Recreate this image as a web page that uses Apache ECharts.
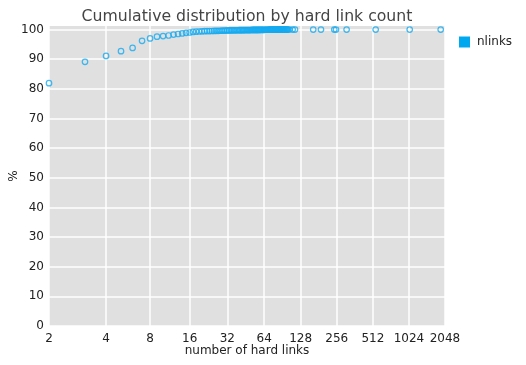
<!DOCTYPE html>
<html>
<head>
<meta charset="utf-8">
<script src="https://cdn.jsdelivr.net/npm/echarts@6/dist/echarts.min.js"></script>
<style>html,body{margin:0;padding:0;background:#fff}#c{width:526px;height:365px}</style>
</head>
<body>
<div id="c"></div>
<script>
const hardLinks = [
  2,3,4,5,6,7,8,9,10,11,12,13,14,15,16,17,18,19,20,
  21,22,23,24,25,26,27,28,29,30,31,
  32,33,34,35,36,37,38,39,40,
  41,42,43,44,45,46,47,48,49,50,
  51,52,53,54,55,56,57,58,59,60,61,62,63,
  64,65,66,67,68,69,70,71,72,73,74,75,76,77,78,79,80,
  81,82,83,84,85,86,87,88,89,90,91,92,93,94,95,96,97,98,99,100,
  103,110,115,163,189,244,252,309,540,1039,1886
];
const cumulativePct = [
  81.9,89.1,91.1,92.7,93.8,96.2,97.0,97.6,97.8,98.0,98.3,98.5,98.7,98.9,99.0,99.2,99.3,99.35,99.4,
  99.45,99.48,99.5,99.52,99.54,99.56,99.58,99.6,99.62,99.64,99.66,
  99.7,99.71,99.72,99.73,99.74,99.75,99.76,99.77,99.78,
  99.79,99.8,99.8,99.81,99.82,99.82,99.83,99.84,99.84,99.85,
  99.86,99.86,99.87,99.87,99.88,99.88,99.89,99.89,99.9,99.9,99.91,99.91,99.92,
  99.92,99.93,99.93,99.93,99.94,99.94,99.94,99.95,99.95,99.95,99.95,99.96,99.96,99.96,99.96,99.97,99.97,
  99.97,99.97,99.97,99.97,99.97,99.98,99.98,99.98,99.98,99.98,99.98,99.98,99.98,99.98,99.98,99.99,99.99,99.99,99.99,99.99,
  99.99,99.99,99.99,99.995,99.995,99.996,99.996,99.997,99.998,99.999,100
];
const xTickLabels = [2,4,8,16,32,64,128,256,512,1024,2048];
const yTickLabels = [0,10,20,30,40,50,60,70,80,90,100];
const seriesName = 'nlinks';

// x axis position: log2(n - 1)
const toAxis = n => Math.log2(n - 1);
const fromAxis = v => Math.round(Math.pow(2, v) + 1);
const xTickPos = xTickLabels.map(toAxis);

const color = '#14aaf0';
const font = 'DejaVu Sans';
const chart = echarts.init(document.getElementById('c'), null, {renderer: 'canvas'});
chart.setOption({
  animation: false,
  backgroundColor: '#fff',
  title: {
    text: 'Cumulative distribution by hard link count',
    left: 242, top: 4, textAlign: 'center',
    textStyle: {fontFamily: font, fontSize: 15.7, fontWeight: 'normal', color: '#444'}
  },
  legend: {
    left: 454, top: 31, orient: 'vertical',
    itemWidth: 11, itemHeight: 11, itemGap: 6,
    textStyle: {fontFamily: font, fontSize: 12, color: '#222', padding: [0, 0, 0, 2]},
    itemStyle: {color: '#00a8f0', borderWidth: 0, opacity: 1},
    data: [{name: seriesName, icon: 'rect', itemStyle: {color: '#00a8f0', borderWidth: 0, opacity: 1}}]
  },
  grid: {left: 49, right: 81, top: 26, bottom: 39, containLabel: false, outerBoundsMode: 'none',
         show: true, backgroundColor: '#e0e0e0', borderWidth: 0},
  xAxis: {
    type: 'value', min: 0, max: 11,
    name: 'number of hard links', nameLocation: 'middle', nameGap: 19, nameMoveOverlap: false,
    nameTextStyle: {fontFamily: font, fontSize: 12, color: '#222'},
    axisLine: {show: false},
    axisTick: {show: false, customValues: xTickPos},
    axisLabel: {customValues: xTickPos, formatter: v => String(fromAxis(v)),
                fontFamily: font, fontSize: 12, color: '#222', margin: 7},
    splitLine: {show: true, lineStyle: {color: '#fff', width: 1.5}}
  },
  yAxis: {
    type: 'value', min: 0, max: 101.2,
    name: '%', nameLocation: 'middle', nameGap: 29, nameRotate: 90, nameMoveOverlap: false,
    nameTextStyle: {fontFamily: font, fontSize: 12, color: '#222'},
    axisLine: {show: false},
    axisTick: {show: false, customValues: yTickLabels},
    axisLabel: {customValues: yTickLabels, fontFamily: font, fontSize: 12, color: '#222', margin: 5},
    splitLine: {show: true, lineStyle: {color: '#fff', width: 1.5}}
  },
  series: [{
    name: seriesName,
    type: 'scatter',
    symbol: 'circle',
    symbolSize: 5.5,
    itemStyle: {color: 'rgba(0,0,0,0)', borderColor: color, borderWidth: 1.2},
    data: hardLinks.map((n, i) => [toAxis(n), cumulativePct[i]])
  }]
});
</script>
</body>
</html>
